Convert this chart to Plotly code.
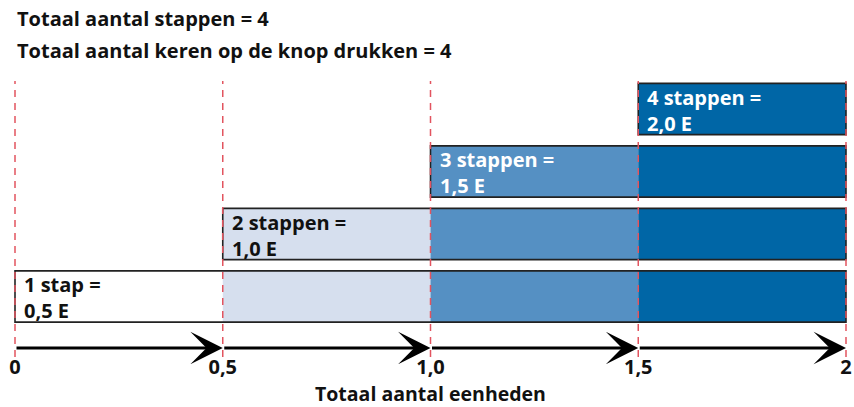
import plotly.graph_objects as go

# Steps and the units they add up to
steps = [1, 2, 3, 4]
step_labels = ["1 stap =<br>0,5 E", "2 stappen =<br>1,0 E",
               "3 stappen =<br>1,5 E", "4 stappen =<br>2,0 E"]
units_per_step = 0.5
segment_starts = [0.0, 0.5, 1.0, 1.5]
total_units = 2.0

tick_values = [0, 0.5, 1.0, 1.5, 2.0]
tick_text = ["0", "0,5", "1,0", "1,5", "2"]

header_lines = ["Totaal aantal stappen = 4",
                "Totaal aantal keren op de knop drukken = 4"]
axis_title = "Totaal aantal eenheden"

# Styling
segment_colors = ["#FFFFFF", "#D6DFEE", "#5590C3", "#0066A6"]
label_colors = ["#111111", "#111111", "#FFFFFF", "#FFFFFF"]
dash_color = "#E2545F"
FONT = "Open Sans"
bar_width = 0.82
y_min, y_max = 0.032, 4.448
arrow_y = 0.176

fig = go.Figure()

# One trace per unit segment (column); each row fills from its start to the end
for c, start in enumerate(segment_starts):
    rows = [r for r in steps if r - 1 <= c]
    fig.add_trace(go.Bar(
        y=rows, x=[units_per_step] * len(rows), base=[start] * len(rows),
        orientation="h", width=bar_width,
        marker=dict(color=segment_colors[c], line=dict(width=0)),
        hoverinfo="skip", showlegend=False,
    ))

# Outline around each row
row_starts = [(r - 1) * units_per_step for r in steps]
fig.add_trace(go.Bar(
    y=steps, x=[total_units - s for s in row_starts], base=row_starts,
    orientation="h", width=bar_width,
    marker=dict(color="rgba(0,0,0,0)", line=dict(color="#222222", width=1.6)),
    hoverinfo="skip", showlegend=False,
))

# Dashed red guides at every half unit
for v in tick_values:
    fig.add_trace(go.Scatter(
        x=[v, v], y=[y_min, y_max], mode="lines",
        line=dict(color=dash_color, width=1.5, dash="7px,6px"),
        hoverinfo="skip", showlegend=False,
    ))

annotations = []
# Row labels in the first segment of each row
for r, text, col in zip(steps, step_labels, label_colors):
    annotations.append(dict(
        x=(r - 1) * units_per_step, y=r, xref="x", yref="y",
        text=text, showarrow=False, xanchor="left", yanchor="middle",
        align="left", xshift=7, yshift=-1,
        font=dict(family=FONT, size=20, color=col, weight="bold"),
    ))

# Arrows along the unit axis
for a, b in zip(tick_values[:-1], tick_values[1:]):
    annotations.append(dict(
        x=b, y=arrow_y, ax=a, ay=arrow_y,
        xref="x", yref="y", axref="x", ayref="y",
        text="", showarrow=True, arrowhead=3, arrowsize=1.8,
        arrowwidth=3, arrowcolor="#000000", standoff=0, startstandoff=0,
    ))

# Header lines
for i, line in enumerate(header_lines):
    annotations.append(dict(
        x=0, y=1, xref="x", yref="paper", xanchor="left", yanchor="middle",
        yshift=81 - 18 - 32 * i, text=line, showarrow=False,
        font=dict(family=FONT, size=20, color="#111111", weight="bold"),
    ))

# Axis title
annotations.append(dict(
    x=1.0, y=0, xref="x", yref="paper", xanchor="center", yanchor="middle",
    yshift=357 - 393, text=axis_title, showarrow=False,
    font=dict(family=FONT, size=19.5, color="#111111", weight="bold"),
))

fig.update_layout(
    width=854, height=407,
    margin=dict(l=9, r=2, t=81, b=50),
    paper_bgcolor="white", plot_bgcolor="white",
    barmode="overlay",
    annotations=annotations,
    xaxis=dict(
        range=[-0.01444, 2.01444], tickvals=tick_values, ticktext=tick_text,
        showgrid=False, zeroline=False, showline=False, ticks="",
        ticklabelstandoff=-4,
        tickfont=dict(family=FONT, size=20, color="#111111", weight="bold"),
        fixedrange=True,
    ),
    yaxis=dict(range=[y_min, y_max], visible=False, fixedrange=True),
)

fig.write_html("out.html")
